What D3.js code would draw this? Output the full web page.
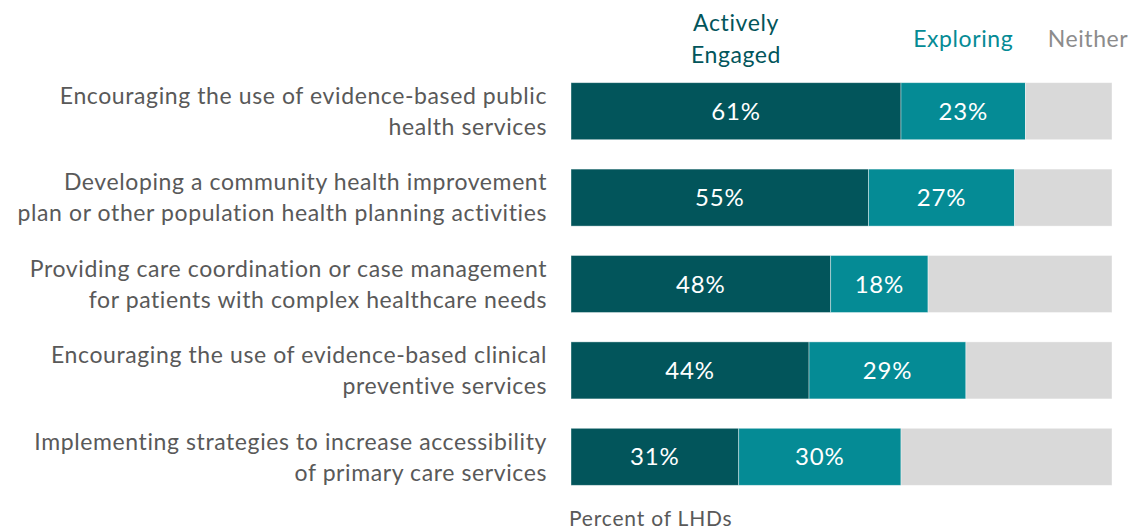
<!DOCTYPE html>
<html>
<head>
<meta charset="utf-8">
<script src="https://cdn.jsdelivr.net/npm/d3@7"></script>
<style>
  html, body { margin: 0; padding: 0; background: #fff; }
  svg { display: block; font-family: "Lato", "Open Sans", sans-serif; }
</style>
</head>
<body>
<svg id="chart" width="1130" height="531"></svg>
<script>
// Activities (each drawn as two right-aligned lines)
const categories = [
  ["Encouraging the use of evidence-based public", "health services"],
  ["Developing a community health improvement", "plan or other population health planning activities"],
  ["Providing care coordination or case management", "for patients with complex healthcare needs"],
  ["Encouraging the use of evidence-based clinical", "preventive services"],
  ["Implementing strategies to increase accessibility", "of primary care services"]
];
const activelyEngaged = [61, 55, 48, 44, 31];
const exploring = [23, 27, 18, 29, 30];
const seriesNames = ["Actively Engaged", "Exploring", "Neither"];
const seriesColors = ["#02555b", "#058b95", "#d9d9d9"];
const axisTitle = "Percent of LHDs";

const rows = categories.map((c, i) => ({
  key: i,
  "Actively Engaged": activelyEngaged[i],
  "Exploring": exploring[i],
  "Neither": 100 - activelyEngaged[i] - exploring[i]
}));

const svg = d3.select("#chart");
const x = d3.scaleLinear().domain([0, 100]).range([571, 1112]);
const y = d3.scaleBand().domain(d3.range(categories.length)).range([68, 500]).paddingInner(0.34).paddingOuter(0.17);

const stack = d3.stack().keys(seriesNames)(rows);

const layers = svg.append("g").selectAll("g")
  .data(stack).join("g")
  .attr("fill", (d, i) => seriesColors[i]);

layers.selectAll("rect")
  .data(d => d).join("rect")
  .attr("x", d => x(d[0]))
  .attr("y", (d, i) => y(i))
  .attr("width", d => x(d[1]) - x(d[0]))
  .attr("height", y.bandwidth())
  .attr("stroke", "#ffffff")
  .attr("stroke-opacity", 0.5)
  .attr("stroke-width", 0.8);

// Value labels on the two engaged segments
stack.slice(0, 2).forEach(layer => {
  svg.append("g").selectAll("text")
    .data(layer).join("text")
    .attr("x", d => (x(d[0]) + x(d[1])) / 2)
    .attr("y", (d, i) => y(i) + y.bandwidth() / 2)
    .attr("dy", "0.36em")
    .attr("text-anchor", "middle")
    .attr("fill", "#ffffff")
    .attr("font-size", 24)
    .attr("letter-spacing", 0.8)
    .text(d => (d[1] - d[0]) + "%");
});

// Category labels
const catG = svg.append("g");
categories.forEach((lines, i) => {
  const cy = y(i) + y.bandwidth() / 2;
  const t = catG.append("text")
    .attr("text-anchor", "end")
    .attr("fill", "#595959")
    .attr("font-size", 23)
    .attr("letter-spacing", 0.6);
  lines.forEach((ln, j) => {
    t.append("tspan")
      .attr("x", 547)
      .attr("y", cy + (j - 0.5) * 31)
      .attr("dy", "0.36em")
      .text(ln);
  });
});

// Legend headers above the first bar
const legendY = 39;
const legendItems = [
  { lines: ["Actively", "Engaged"], cx: (x(0) + x(activelyEngaged[0])) / 2 },
  { lines: ["Exploring"], cx: (x(activelyEngaged[0]) + x(activelyEngaged[0] + exploring[0])) / 2 },
  { lines: ["Neither"], cx: 1088 }
];
legendItems.forEach((item, i) => {
  const t = svg.append("text")
    .attr("text-anchor", "middle")
    .attr("fill", i === 2 ? "#8c8c8c" : seriesColors[i])
    .attr("font-size", 23)
    .attr("letter-spacing", 0.6);
  const n = item.lines.length;
  item.lines.forEach((ln, j) => {
    t.append("tspan")
      .attr("x", item.cx)
      .attr("y", legendY + (j - (n - 1) / 2) * 32)
      .attr("dy", "0.36em")
      .text(ln);
  });
});

// Axis title
svg.append("text")
  .attr("x", 569)
  .attr("y", 526)
  .attr("fill", "#595959")
  .attr("font-size", 21)
  .attr("letter-spacing", 0.8)
  .text(axisTitle);
</script>
</body>
</html>
